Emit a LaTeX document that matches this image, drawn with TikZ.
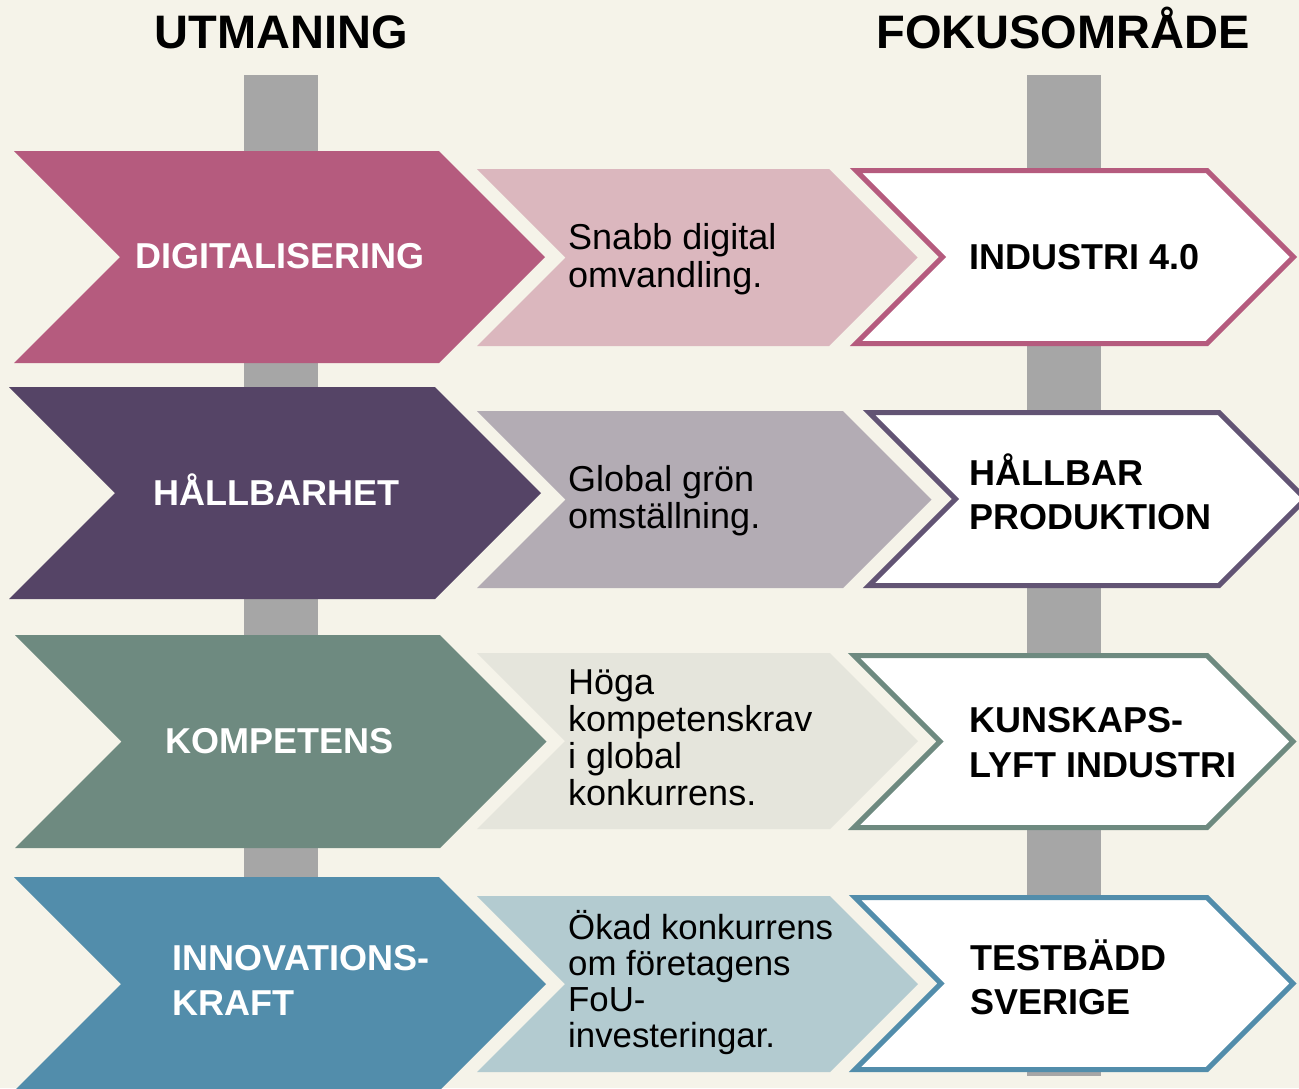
\documentclass[tikz,border=0pt]{standalone}
\usepackage{fontspec}
\setmainfont{Liberation Sans}
\definecolor{bg}{HTML}{F5F3E9}
\definecolor{post}{HTML}{A6A6A6}
\definecolor{ca}{HTML}{B55B7E}
\definecolor{cal}{HTML}{DBB7BE}
\definecolor{cb}{HTML}{554466}
\definecolor{cbl}{HTML}{B3ACB4}
\definecolor{cbb}{HTML}{625474}
\definecolor{cc}{HTML}{6E8A80}
\definecolor{ccl}{HTML}{E5E5DC}
\definecolor{cd}{HTML}{528DAB}
\definecolor{cdl}{HTML}{B3CBD0}
\newcommand\mychev[5]{% style, left, top, bottom, corner
  \path[#1] (#2,#3) -- (#5,#3) -- ({#5+(#4-#3)/2},{(#3+#4)/2}) -- (#5,#4) -- (#2,#4) -- ({#2+(#4-#3)/2},{(#3+#4)/2}) -- cycle;}
\begin{document}
\begin{tikzpicture}[x=1pt,y=-1pt,
  title/.style={inner sep=0pt, anchor=base, font=\fontsize{47}{56}\selectfont\bfseries},
  lbl/.style={inner sep=0pt, anchor=base west, text=white, font=\fontsize{36}{45}\selectfont\bfseries},
  focus/.style={inner sep=0pt, anchor=base west, text=black, font=\fontsize{36}{44}\selectfont\bfseries},
  desc/.style={inner sep=0pt, anchor=base west, text=black, font=\fontsize{36}{37.3}\selectfont},
  outline/.style={fill=white, draw=#1, line width=5pt}]
\path[use as bounding box, fill=bg] (0,0) rectangle (1299,1088);
\clip (0,0) rectangle (1299,1088);
% posts
\fill[post] (244,75) rectangle (318,1000);
\fill[post] (1027,75) rectangle (1101,1076);
% titles
\node[title] (t1) at (281,48) {UTMANING};
\node[title] (t2) at (1063,48) {FOKUSOMRÅDE};
% row 1
\mychev{fill=ca}{14}{151}{363}{439}
\mychev{fill=cal}{477}{169}{346}{829}
\mychev{outline=ca}{856}{170.5}{343.5}{1207}
% row 2
\mychev{fill=cb}{9}{387}{599}{435}
\mychev{fill=cbl}{477}{411}{588}{843}
\mychev{outline=cbb}{869}{412.5}{585.5}{1219}
% row 3
\mychev{fill=cc}{15}{635}{848}{440}
\mychev{fill=ccl}{477}{653}{829}{830}
\mychev{outline=cc}{854}{655.5}{827.5}{1207}
% row 4
\mychev{fill=cd}{14}{877}{1091}{439}
\mychev{fill=cdl}{477}{896}{1072}{830}
\mychev{outline=cd}{855}{897.5}{1069.5}{1207}
% left labels
\node[lbl] (l1) at (135,268) {DIGITALISERING};
\node[lbl] (l2) at (153.5,505) {HÅLLBARHET};
\node[lbl] (l3) at (165,753) {KOMPETENS};
\node[lbl] (l4) at (172.5,970) {\vtop{\hbox{INNOVATIONS-}\hbox{KRAFT}}};
% middle descriptions
\node[desc, font=\fontsize{36}{38}\selectfont] (m1) at (568,249) {\vtop{\hbox{Snabb digital}\hbox{omvandling.}}};
\node[desc, font=\fontsize{36}{37}\selectfont] (m2) at (568,491) {\vtop{\hbox{Global grön}\hbox{omställning.}}};
\node[desc] (m3) at (568,694) {\vtop{\hbox{Höga}\hbox{kompetenskrav}\hbox{i global}\hbox{konkurrens.}}};
\node[desc, font=\fontsize{34.8}{36}\selectfont] (m4) at (568,939) {\vtop{\hbox{Ökad konkurrens}\hbox{om företagens}\hbox{FoU-}\hbox{investeringar.}}};
% focus areas
\node[focus] (r1) at (969.5,269) {INDUSTRI 4.0};
\node[focus] (r2) at (969.5,485) {\vtop{\hbox{HÅLLBAR}\hbox{PRODUKTION}}};
\node[focus, font=\fontsize{36}{45}\selectfont\bfseries] (r3) at (969.5,732) {\vtop{\hbox{KUNSKAPS-}\hbox{LYFT INDUSTRI}}};
\node[focus] (r4) at (970.5,970) {\vtop{\hbox{TESTBÄDD}\hbox{SVERIGE}}};
\end{tikzpicture}
\end{document}
